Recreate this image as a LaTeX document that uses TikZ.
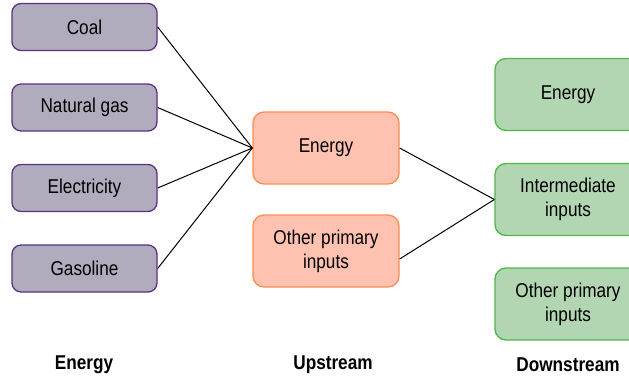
\documentclass[tikz,border=0pt]{standalone}
\usepackage{fontspec}
\setmainfont{Liberation Sans}[FakeStretch=0.86]
\definecolor{pfill}{HTML}{B1ACBD}
\definecolor{pdraw}{HTML}{5E2F86}
\definecolor{ofill}{HTML}{FFC2B0}
\definecolor{odraw}{HTML}{FF8C50}
\definecolor{gfill}{HTML}{B1D6B1}
\definecolor{gdraw}{HTML}{4DB848}
\begin{document}
\begin{tikzpicture}[x=1pt,y=-1pt,
  every node/.style={font=\fontsize{20}{24}\selectfont, align=center, inner sep=0pt},
  srcbox/.style={draw=pdraw, fill=pfill, line width=1.3pt, rounded corners=9pt, minimum width=145pt, minimum height=47pt},
  upbox/.style={draw=odraw, fill=ofill, line width=1.3pt, rounded corners=11pt, minimum width=146pt, minimum height=72pt},
  downbox/.style={draw=gdraw, fill=gfill, line width=1.3pt, rounded corners=11pt, minimum width=146pt, minimum height=72pt},
  conn/.style={draw=black, line width=1pt},
  heading/.style={font=\fontsize{20}{24}\selectfont\bfseries}]
\useasboundingbox (0,0) rectangle (629,381);
\node[srcbox] (coal) at (84.5,27) {Coal};
\node[srcbox] (gas) at (84.5,107.5) {Natural gas};
\node[srcbox] (elec) at (84.5,188) {Electricity};
\node[srcbox] (gsl) at (84.5,268.5) {Gasoline};
\node[upbox] (uen) at (326,148) {Energy};
\node[upbox] (uoth) at (326,251) {Other primary\\inputs};
\node[downbox] (den) at (568,94.5) {Energy};
\node[downbox] (dint) at (568,199.5) {Intermediate\\inputs};
\node[downbox] (doth) at (568,304) {Other primary\\inputs};
\draw[conn] (coal.east) -- (uen.west);
\draw[conn] (gas.east) -- (uen.west);
\draw[conn] (elec.east) -- (uen.west);
\draw[conn] (gsl.east) -- (uen.west);
\draw[conn] (uen.east) -- (dint.west);
\draw[conn] ([yshift=-8pt]uoth.east) -- (dint.west);
\node[heading] (h1) at (84,365) {Energy};
\node[heading] (h2) at (333,365) {Upstream};
\node[heading] (h3) at (568,365) {Downstream};
\end{tikzpicture}
\end{document}
